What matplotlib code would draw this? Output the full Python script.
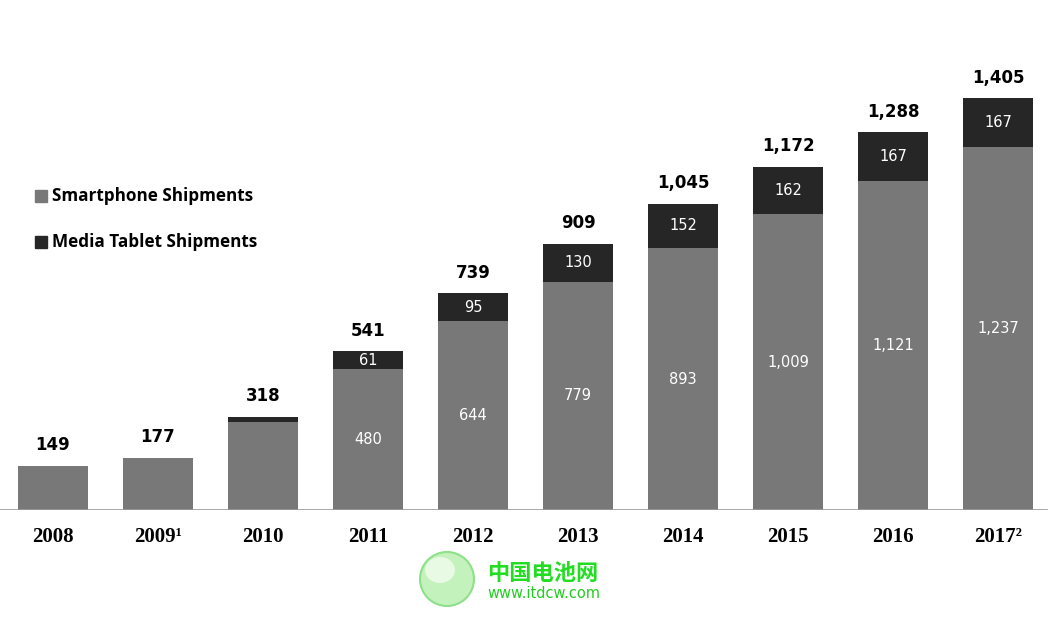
import numpy as np
import matplotlib.pyplot as plt
from matplotlib.patches import Ellipse, Rectangle

years = ['2008', '2009¹', '2010', '2011', '2012', '2013', '2014', '2015', '2016', '2017²']
smartphone = [149, 177, 301, 480, 644, 779, 893, 1009, 1121, 1237]
tablet = [0, 0, 17, 61, 95, 130, 152, 162, 167, 167]
totals = ['149', '177', '318', '541', '739', '909', '1,045', '1,172', '1,288', '1,405']
phone_labels = ['', '', '', '480', '644', '779', '893', '1,009', '1,121', '1,237']
tablet_labels = ['', '', '', '61', '95', '130', '152', '162', '167', '167']

c_phone = '#787878'
c_tab = '#262626'

fig = plt.figure(figsize=(10.52, 6.43), dpi=100)
ax = fig.add_axes([0, 133 / 643, 1, 510 / 643])
x = np.arange(len(years))
ax.bar(x, smartphone, width=0.667, color=c_phone)
ax.bar(x, tablet, width=0.667, bottom=smartphone, color=c_tab)
ax.set_xlim(-0.505, 9.514)
ax.set_ylim(0, 1740)
ax.axis('off')
ax.axhline(0, xmin=0, xmax=0.995, color='#999999', lw=1.2)

for i in range(len(years)):
    top = smartphone[i] + tablet[i]
    ax.annotate(totals[i], (x[i], top), xytext=(0, 15), textcoords='offset points',
                ha='center', va='center', fontsize=12, fontweight='bold',
                family='DejaVu Sans', color='black')
    if phone_labels[i]:
        ax.text(x[i], smartphone[i] / 2, phone_labels[i], ha='center', va='center',
                fontsize=10.5, color='white', family='DejaVu Sans')
    if tablet_labels[i]:
        ax.text(x[i], smartphone[i] + tablet[i] / 2, tablet_labels[i], ha='center',
                va='center', fontsize=10.5, color='white', family='DejaVu Sans')
    fig.text((53 + 105 * i) / 1052, 1 - 537 / 643, years[i], ha='center', va='center',
             fontsize=15, fontweight='bold', family='Liberation Serif')

# legend
for yy, lab, col in [(196, 'Smartphone Shipments', c_phone), (242, 'Media Tablet Shipments', c_tab)]:
    fig.patches.append(Rectangle((35 / 1052, 1 - (yy + 6) / 643), 12 / 1052, 12 / 643,
                                 transform=fig.transFigure, color=col))
    fig.text(52 / 1052, 1 - yy / 643, lab, ha='left', va='center', fontsize=12.3,
             fontweight='bold', family='Open Sans')

# watermark
fig.patches.append(Ellipse((447 / 1052, 1 - 579 / 643), 54 / 1052, 54 / 643,
                           transform=fig.transFigure, facecolor='#c4f2bc',
                           edgecolor='#8ee08a', lw=1.5))
fig.patches.append(Ellipse((440 / 1052, 1 - 570 / 643), 30 / 1052, 26 / 643,
                           transform=fig.transFigure, facecolor='#e8fae4',
                           edgecolor='none'))
fig.text(487 / 1052, 1 - 573 / 643, '中国电池网', ha='left', va='center', fontsize=16,
         fontweight='bold', color='#22dd22', family='Noto Sans CJK SC')
fig.text(487 / 1052, 1 - 593 / 643, 'www.itdcw.com', ha='left', va='center', fontsize=10.5,
         color='#22cc22', family='DejaVu Sans')

fig.savefig('out.png', dpi=100)
